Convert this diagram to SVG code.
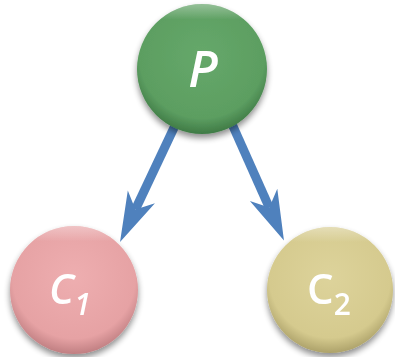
<svg xmlns="http://www.w3.org/2000/svg" width="395" height="357" viewBox="0 0 395 357">
<style>
.lbl{font-family:"Open Sans","Liberation Sans",sans-serif;fill:#ffffff;font-weight:600;}
.conn{stroke:#4f81bd;stroke-width:9;fill:none;}
.node{filter:url(#sh);}
</style>
<defs>
<filter id="sh" x="-20%" y="-20%" width="140%" height="150%">
<feGaussianBlur in="SourceAlpha" stdDeviation="3"/>
<feOffset dx="0" dy="4" result="b"/>
<feComponentTransfer><feFuncA type="linear" slope="0.45"/></feComponentTransfer>
<feMerge><feMergeNode/><feMergeNode in="SourceGraphic"/></feMerge>
</filter>
<radialGradient id="gG" cx="50%" cy="40%" r="60%">
<stop offset="0" stop-color="#66a86a"/>
<stop offset="0.8" stop-color="#5c9e61"/>
<stop offset="1" stop-color="#3f7a45"/>
</radialGradient>
<radialGradient id="gP" cx="50%" cy="40%" r="60%">
<stop offset="0" stop-color="#eeaeb0"/>
<stop offset="0.8" stop-color="#e6a2a4"/>
<stop offset="1" stop-color="#c07f82"/>
</radialGradient>
<radialGradient id="gK" cx="50%" cy="40%" r="60%">
<stop offset="0" stop-color="#ddd39b"/>
<stop offset="0.8" stop-color="#d5ca8e"/>
<stop offset="1" stop-color="#ada26a"/>
</radialGradient>
<linearGradient id="hl" x1="0" y1="0" x2="0" y2="1">
<stop offset="0" stop-color="#ffffff" stop-opacity="0.35"/>
<stop offset="0.12" stop-color="#ffffff" stop-opacity="0"/>
<stop offset="1" stop-color="#ffffff" stop-opacity="0"/>
</linearGradient>
<marker id="ah" markerUnits="userSpaceOnUse" orient="auto" refX="0" refY="0" markerWidth="60" markerHeight="40" viewBox="-20 -20 60 40" overflow="visible">
<path d="M36,0 L-14,-15 L0,0 L-14,15 Z" fill="#4f81bd"/>
</marker>
</defs>
<g id="connectors">
<line class="conn" x1="180" y1="115" x2="135.4" y2="209.5" marker-end="url(#ah)"/>
<line class="conn" x1="228" y1="115" x2="269.3" y2="207.6" marker-end="url(#ah)"/>
</g>
<g id="node-P" class="node">
<circle cx="202" cy="69" r="65" fill="url(#gG)"/>
<circle cx="202" cy="69" r="65" fill="url(#hl)"/>
<text class="lbl" x="203" y="87" font-size="50" font-style="italic" text-anchor="middle">P</text>
</g>
<g id="node-C1" class="node">
<circle cx="74" cy="290" r="64" fill="url(#gP)"/>
<circle cx="74" cy="290" r="64" fill="url(#hl)"/>
<text class="lbl" x="49" y="304" font-size="42" font-style="italic">C<tspan font-size="30" dy="11">1</tspan></text>
</g>
<g id="node-C2" class="node">
<circle cx="330" cy="290" r="63" fill="url(#gK)"/>
<circle cx="330" cy="290" r="63" fill="url(#hl)"/>
<text class="lbl" x="307" y="304" font-size="42">C<tspan font-size="30" dy="11">2</tspan></text>
</g>
</svg>
